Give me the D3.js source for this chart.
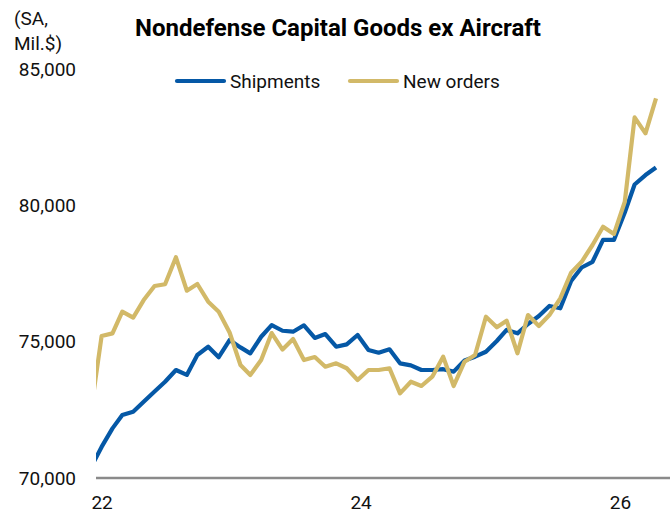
<!DOCTYPE html>
<html>
<head>
<meta charset="utf-8">
<script src="https://cdn.jsdelivr.net/npm/d3@7"></script>
<style>
  body { margin: 0; background: #fff; }
  svg { font-family: Roboto, "Liberation Sans", sans-serif; }
</style>
</head>
<body>
<svg></svg>
<script>
var width = 670;
var height = 521;

// months, Dec 2021 .. May 2026
var months = d3.timeMonths(new Date(2021, 11, 1), new Date(2026, 5, 1));
// shipments, mil. $
var shipments = [70370, 71140, 71820, 72310, 72430, 72800, 73170, 73530, 73960, 73780, 74510,
    74815, 74430, 75060, 74790, 74570, 75180, 75610, 75400, 75365, 75600, 75135, 75280,
    74815, 74900, 75245, 74695, 74595, 74720, 74205, 74130, 73960, 73960, 73990, 73900,
    74310, 74450, 74630, 75025, 75430, 75305, 75650, 75940, 76310, 76225, 77225, 77720,
    77930, 78730, 78730, 79735, 80765, 81110, 81385];
// new orders, mil. $
var newOrders = [72400, 75205, 75305, 76100, 75880, 76525, 77040, 77105, 78095, 76870, 77115,
    76465, 76100, 75335, 74145, 73780, 74325, 75315, 74710, 75095, 74325, 74435, 74080,
    74205, 74025, 73595, 73960, 73960, 74025, 73105, 73530, 73375, 73715, 74450, 73375,
    74265, 74510, 75915, 75525, 75770, 74575, 75975, 75575, 75975, 76590, 77530, 77930,
    78545, 79215, 78945, 80130, 83225, 82640, 83925];
var yTicks = [70000, 75000, 80000, 85000];
var xTicks = [new Date(2022, 0, 1), new Date(2024, 0, 1), new Date(2026, 0, 1)];
var seriesNames = ["Shipments", "New orders"];
var colors = ["#0558a6", "#d2b968"];

var plotLeft = 96, plotRight = 656, plotTop = 69, plotBottom = 478;

var svg = d3.select("svg")
    .attr("width", width)
    .attr("height", height);

var xScale = d3.scaleTime()
    .domain([new Date(2021, 11, 16), new Date(2026, 4, 1)])
    .range([plotLeft, plotRight]);

var yScale = d3.scaleLinear()
    .domain([70000, 85000])
    .range([plotBottom, plotTop]);

// clip so the Dec 2021 stub is cut at the left edge
svg.append("clipPath")
    .attr("id", "plot")
    .append("rect")
    .attr("x", plotLeft)
    .attr("y", 0)
    .attr("width", width - plotLeft)
    .attr("height", plotBottom);

// y axis labels only
var yAxis = d3.axisLeft(yScale)
    .tickValues(yTicks)
    .tickFormat(d3.format(","))
    .tickSize(0)
    .tickPadding(0);
svg.append("g")
    .attr("transform", "translate(76,0)")
    .call(yAxis)
    .call(g => g.select(".domain").remove())
    .selectAll("text")
        .attr("font-size", 19)
        .attr("font-family", "Roboto")
        .attr("fill", "#111");

// x axis
var xAxis = d3.axisBottom(xScale)
    .tickValues(xTicks)
    .tickFormat(d3.timeFormat("%y"))
    .tickSize(0)
    .tickPadding(18);
svg.append("g")
    .attr("transform", "translate(0," + plotBottom + ")")
    .call(xAxis)
    .call(g => g.select(".domain").remove())
    .selectAll("text")
        .attr("font-size", 19)
        .attr("font-family", "Roboto")
        .attr("fill", "#111")
        .attr("dx", (d, i) => i * 3);

// baseline
svg.append("line")
    .attr("x1", plotLeft)
    .attr("x2", width)
    .attr("y1", yScale(70000))
    .attr("y2", yScale(70000))
    .attr("stroke", "#8a8a8a")
    .attr("stroke-width", 2.5);

// lines
var line = d3.line()
    .x((d, i) => xScale(months[i]))
    .y(d => yScale(d));

[shipments, newOrders].forEach(function(series, k) {
    svg.append("path")
        .datum(series)
        .attr("clip-path", "url(#plot)")
        .attr("fill", "none")
        .attr("stroke", colors[k])
        .attr("stroke-width", 4.2)
        .attr("stroke-linejoin", "round")
        .attr("d", line);
});

// title
svg.append("text")
    .attr("x", 338)
    .attr("y", 36)
    .attr("text-anchor", "middle")
    .attr("font-size", 24)
    .attr("font-weight", "bold")
    .attr("fill", "#000")
    .text("Nondefense Capital Goods ex Aircraft");

// unit label
svg.append("text")
    .attr("x", 14)
    .attr("y", 25)
    .attr("font-size", 19)
    .attr("fill", "#111")
    .text("(SA,");
svg.append("text")
    .attr("x", 14)
    .attr("y", 50)
    .attr("font-size", 19)
    .attr("fill", "#111")
    .text("Mil.$)");

// legend
var legendX = [177, 350];
seriesNames.forEach(function(name, k) {
    var g = svg.append("g")
        .attr("transform", "translate(" + legendX[k] + ",81)");
    g.append("line")
        .attr("x1", 0)
        .attr("x2", 47)
        .attr("stroke", colors[k])
        .attr("stroke-width", 4.2)
        .attr("stroke-linecap", "round");
    g.append("text")
        .attr("x", 53)
        .attr("y", 7)
        .attr("font-size", 19)
        .attr("fill", "#111")
        .text(name);
});
</script>
</body>
</html>
